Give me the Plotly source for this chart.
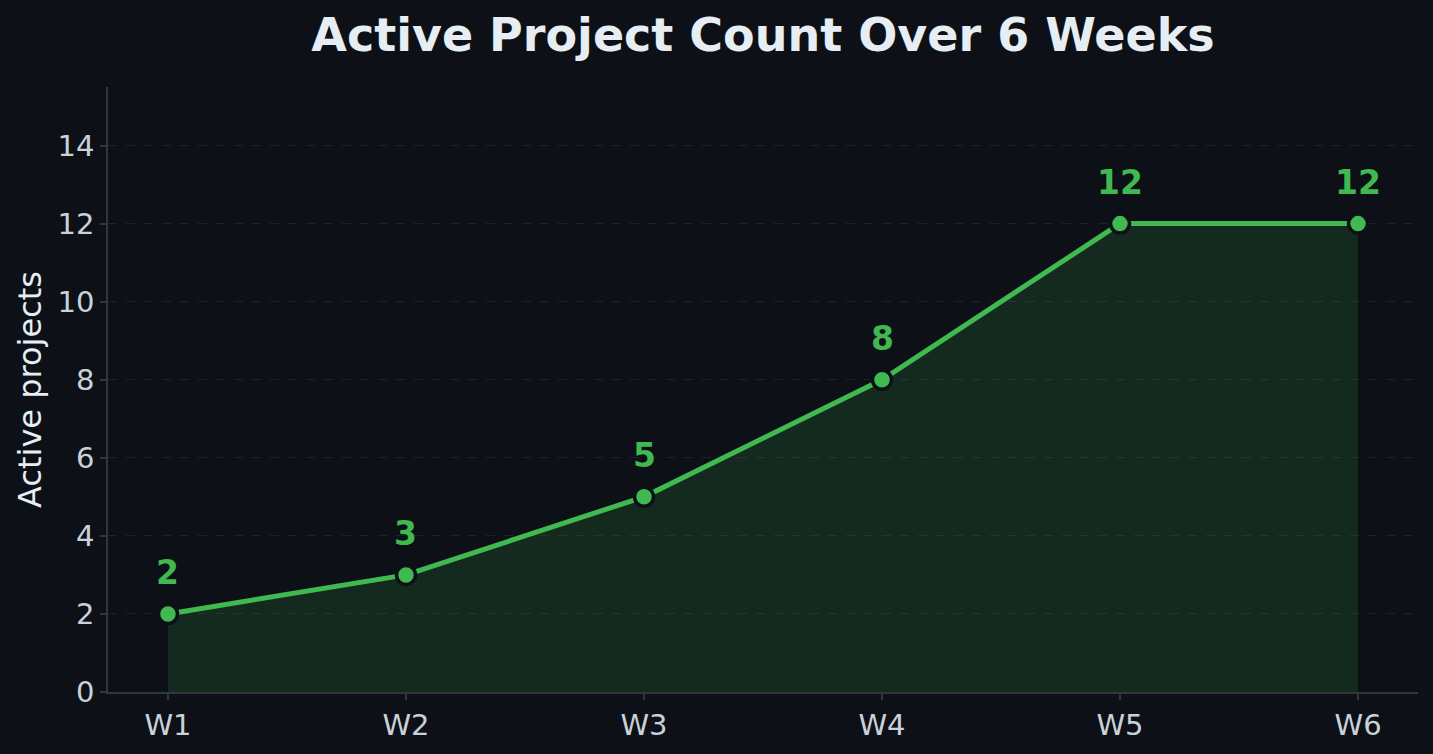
import plotly.graph_objects as go

weeks = ["W1", "W2", "W3", "W4", "W5", "W6"]
active_projects = [2, 3, 5, 8, 12, 12]
y_ticks = [0, 2, 4, 6, 8, 10, 12, 14]

BG = "#0d1117"
GREEN = "#3fb950"
AXIS = "#30363d"
TICKTXT = "#c9d1d9"
TITLE = "#e6edf3"

xi = list(range(len(weeks)))

fig = go.Figure()
fig.add_trace(go.Scatter(
    x=xi, y=active_projects, mode="lines",
    line=dict(color="rgba(63,185,80,0.25)", width=1),
    fill="tozeroy", fillcolor="rgba(63,185,80,0.15)",
    hoverinfo="skip", showlegend=False,
))
fig.add_trace(go.Scatter(
    x=xi, y=active_projects, mode="lines+markers",
    line=dict(color=GREEN, width=5),
    marker=dict(size=19, color=GREEN, line=dict(color=BG, width=3.5)),
    showlegend=False,
))

for xv, v in zip(xi, active_projects):
    fig.add_annotation(
        x=xv, y=v, text=f"<b>{v}</b>", showarrow=False,
        yshift=41, xanchor="center", yanchor="middle",
        font=dict(family="DejaVu Sans", size=33, color=GREEN),
    )

fig.update_layout(
    width=1433, height=754,
    paper_bgcolor=BG, plot_bgcolor=BG,
    margin=dict(l=108, r=15, t=87, b=59),
    font=dict(family="DejaVu Sans", color=TICKTXT),
    title=dict(
        text="<b>Active Project Count Over 6 Weeks</b>",
        xref="paper", x=0.5, xanchor="center", y=0.954, yanchor="middle",
        font=dict(family="DejaVu Sans", size=46, color=TITLE),
    ),
    xaxis=dict(
        range=[-0.252, 5.252], tickmode="array", tickvals=xi, ticktext=weeks,
        showgrid=False, zeroline=False,
        showline=True, linecolor=AXIS, linewidth=1.5,
        ticks="outside", ticklen=6, tickcolor=AXIS, tickwidth=1.5,
        tickfont=dict(size=29, color=TICKTXT),
    ),
    yaxis=dict(
        range=[0, 15.5], tickmode="array", tickvals=y_ticks,
        showgrid=True, gridcolor="rgba(48,54,61,0.45)", griddash="dash", gridwidth=1,
        zeroline=False,
        showline=True, linecolor=AXIS, linewidth=1.5,
        ticks="outside", ticklen=6, tickcolor=AXIS, tickwidth=1.5,
        tickfont=dict(size=29, color=TICKTXT),
        title=dict(text="Active projects", font=dict(size=32, color=TITLE), standoff=6),
    ),
)

fig.write_html("out.html", config={"displayModeBar": False},
               post_script="document.body.style.margin='0px';")
